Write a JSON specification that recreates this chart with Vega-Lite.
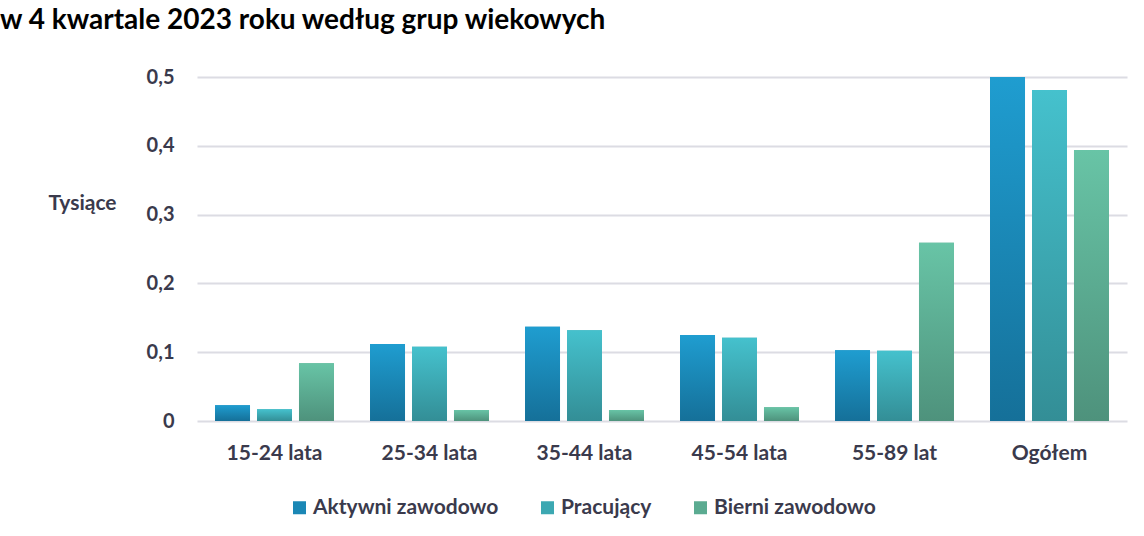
{
  "$schema": "https://vega.github.io/schema/vega-lite/v6.json",
  "autosize": {"type": "none"},
  "width": 930,
  "height": 344,
  "padding": {"left": 197, "top": 77, "right": 17, "bottom": 115},
  "background": "white",
  "title": {
    "text": "w 4 kwartale 2023 roku według grup wiekowych",
    "anchor": "start",
    "frame": "group",
    "dx": -197,
    "baseline": "alphabetic",
    "offset": 10,
    "font": "Lato",
    "fontSize": 28,
    "fontWeight": "bold",
    "color": "#000000"
  },
  "config": {
    "view": {"stroke": null},
    "font": "Lato"
  },
  "data": {
    "values": [
      {"grupa": "15-24 lata", "seria": "Aktywni zawodowo", "v": 0.023},
      {"grupa": "15-24 lata", "seria": "Pracujący", "v": 0.017},
      {"grupa": "15-24 lata", "seria": "Bierni zawodowo", "v": 0.084},
      {"grupa": "25-34 lata", "seria": "Aktywni zawodowo", "v": 0.112},
      {"grupa": "25-34 lata", "seria": "Pracujący", "v": 0.108},
      {"grupa": "25-34 lata", "seria": "Bierni zawodowo", "v": 0.016},
      {"grupa": "35-44 lata", "seria": "Aktywni zawodowo", "v": 0.137},
      {"grupa": "35-44 lata", "seria": "Pracujący", "v": 0.132},
      {"grupa": "35-44 lata", "seria": "Bierni zawodowo", "v": 0.016},
      {"grupa": "45-54 lata", "seria": "Aktywni zawodowo", "v": 0.125},
      {"grupa": "45-54 lata", "seria": "Pracujący", "v": 0.121},
      {"grupa": "45-54 lata", "seria": "Bierni zawodowo", "v": 0.020},
      {"grupa": "55-89 lat", "seria": "Aktywni zawodowo", "v": 0.103},
      {"grupa": "55-89 lat", "seria": "Pracujący", "v": 0.102},
      {"grupa": "55-89 lat", "seria": "Bierni zawodowo", "v": 0.259},
      {"grupa": "Ogółem", "seria": "Aktywni zawodowo", "v": 0.500},
      {"grupa": "Ogółem", "seria": "Pracujący", "v": 0.481},
      {"grupa": "Ogółem", "seria": "Bierni zawodowo", "v": 0.394}
    ]
  },
  "encoding": {
    "x": {
      "field": "grupa",
      "type": "nominal",
      "sort": null,
      "scale": {"paddingInner": 0, "paddingOuter": 0},
      "axis": {
        "title": null,
        "labelAngle": 0,
        "labelFont": "Lato",
        "labelFontSize": 21,
        "labelFontWeight": "bold",
        "labelColor": "#3a3a4c",
        "labelPadding": 21,
        "domain": false,
        "ticks": false,
        "grid": false
      }
    },
    "xOffset": {
      "field": "seria",
      "type": "nominal",
      "sort": ["Aktywni zawodowo", "Pracujący", "Bierni zawodowo"],
      "scale": {"domain": ["Aktywni zawodowo", "Pracujący", "Bierni zawodowo"], "paddingInner": 0.167, "paddingOuter": 0.43}
    },
    "y": {
      "field": "v",
      "type": "quantitative",
      "scale": {"domain": [0, 0.5], "nice": false},
      "axis": {
        "title": "Tysiące",
        "titleAngle": 0,
        "titleAlign": "left",
        "titleBaseline": "middle",
        "titleX": -149,
        "titleY": 126,
        "titleFont": "Lato",
        "titleFontSize": 21,
        "titleFontWeight": "bold",
        "titleColor": "#3a3a4c",
        "values": [0, 0.1, 0.2, 0.3, 0.4, 0.5],
        "labelExpr": "replace(format(datum.value, datum.value == 0 ? 'd' : '.1f'), '.', ',')",
        "labelFont": "Lato",
        "labelFontSize": 20,
        "labelFontWeight": "bold",
        "labelColor": "#3a3a4c",
        "labelPadding": 23,
        "domain": false,
        "ticks": false,
        "grid": true,
        "gridColor": "#dcdce3",
        "gridWidth": 2
      }
    }
  },
  "layer": [
    {
      "mark": {"type": "bar"},
      "encoding": {
        "color": {
          "field": "seria",
          "type": "nominal",
          "sort": ["Aktywni zawodowo", "Pracujący", "Bierni zawodowo"],
          "scale": {
            "domain": ["Aktywni zawodowo", "Pracujący", "Bierni zawodowo"],
            "range": ["#1a87b5", "#3ca8b2", "#5bab91"]
          },
          "legend": {
            "title": null,
            "orient": "none",
            "direction": "horizontal",
            "legendX": 92,
            "legendY": 420,
            "symbolType": "square",
            "symbolSize": 169,
            "symbolStrokeWidth": 0,
            "symbolOpacity": 1,
            "labelFont": "Lato",
            "labelFontSize": 21,
            "labelFontWeight": "bold",
            "labelColor": "#3a3a4c",
            "labelOffset": 3,
            "columnPadding": 38,
            "labelLimit": 300
          }
        }
      }
    },
    {
      "transform": [{"filter": "datum.seria == 'Aktywni zawodowo'"}],
      "mark": {"type": "bar", "color": {"gradient": "linear", "x1": 0, "y1": 0, "x2": 0, "y2": 1, "stops": [{"offset": 0, "color": "#1f9dd0"}, {"offset": 1, "color": "#157099"}]}}
    },
    {
      "transform": [{"filter": "datum.seria == 'Pracujący'"}],
      "mark": {"type": "bar", "color": {"gradient": "linear", "x1": 0, "y1": 0, "x2": 0, "y2": 1, "stops": [{"offset": 0, "color": "#45c1cd"}, {"offset": 1, "color": "#338e96"}]}}
    },
    {
      "transform": [{"filter": "datum.seria == 'Bierni zawodowo'"}],
      "mark": {"type": "bar", "color": {"gradient": "linear", "x1": 0, "y1": 0, "x2": 0, "y2": 1, "stops": [{"offset": 0, "color": "#68c4a6"}, {"offset": 1, "color": "#4e927c"}]}}
    }
  ]
}
